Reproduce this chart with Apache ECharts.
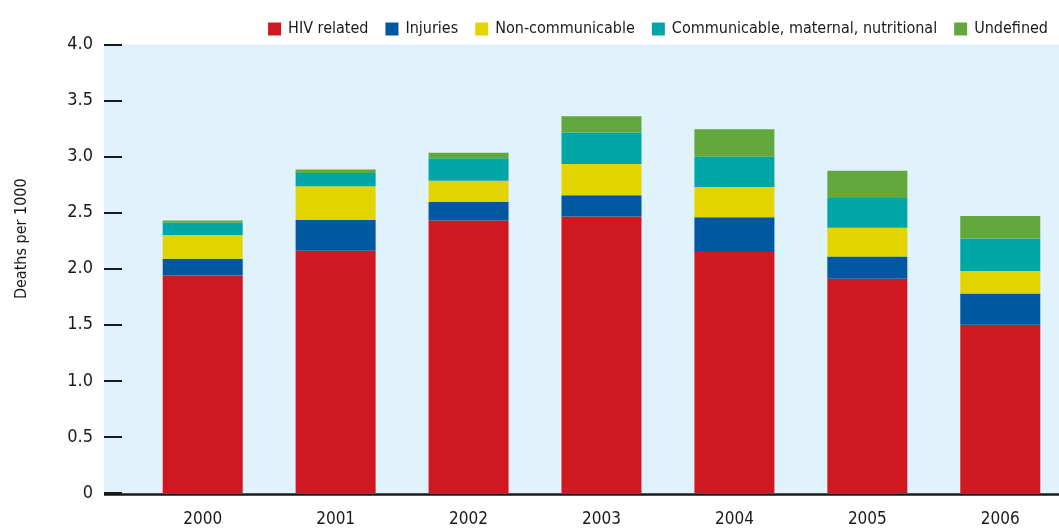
<!DOCTYPE html>
<html>
<head>
<meta charset="utf-8">
<script src="https://cdn.jsdelivr.net/npm/echarts@6/dist/echarts.min.js"></script>
<style>
html,body{margin:0;padding:0;background:#fff;}
#chart{width:1059px;height:528px;}
</style>
</head>
<body>
<div id="chart"></div>
<script>
var years = [2000, 2001, 2002, 2003, 2004, 2005, 2006];
var seriesNames = ['HIV related','Injuries','Non-communicable','Communicable, maternal, nutritional','Undefined'];
var hivRelated = [1.94, 2.16, 2.43, 2.465, 2.15, 1.91, 1.50];
var injuries = [0.15, 0.275, 0.165, 0.19, 0.31, 0.20, 0.28];
var nonCommunicable = [0.21, 0.30, 0.19, 0.28, 0.27, 0.255, 0.20];
var communicable = [0.11, 0.12, 0.20, 0.28, 0.27, 0.265, 0.29];
var undefinedCause = [0.02, 0.03, 0.05, 0.145, 0.245, 0.245, 0.20];
var yTicks = ['0','0.5','1.0','1.5','2.0','2.5','3.0','3.5','4.0'];
var colors = ['#CF1920','#0058A0','#E2D400','#00A5A8','#63A83C'];

var FONT = "'DejaVu Sans Condensed','Liberation Sans Narrow',sans-serif";
var chart = echarts.init(document.getElementById('chart'), null, {renderer:'canvas'});
var dataSets = [hivRelated, injuries, nonCommunicable, communicable, undefinedCause];

var option = {
  animation: false,
  color: colors,
  textStyle: {fontFamily: FONT},
  graphic: [
    {type:'line', z:100, shape:{x1:104, y1:494.5, x2:1059, y2:494.5}, style:{stroke:'#1a1a1a', lineWidth:2.5}}
  ],
  legend: {
    right: 6, top: 16, width: 1000,
    itemWidth: 13, itemHeight: 13, itemGap: 17,
    icon: 'rect',
    textStyle: {fontFamily: FONT, fontSize: 16, color:'#1a1a1a', padding:[0,0,0,2]},
    data: seriesNames
  },
  grid: {left: 104, right: 0, top: 44.5, bottom: 33, containLabel: false,
         show: true, backgroundColor: '#E0F2FC', borderWidth: 0},
  xAxis: {
    type: 'value', min: 1999.2575, max: 2006.4418,
    splitLine: {show: false},
    axisLine: {show: false},
    axisTick: {show: false},
    axisLabel: {fontFamily: FONT, fontSize: 17, color:'#1a1a1a', margin: 18,
      customValues: years, formatter: function(v){ return String(Math.round(v)); }}
  },
  yAxis: {
    type: 'value', min: 0, max: 4, interval: 0.5,
    name: 'Deaths per 1000',
    nameLocation: 'middle', nameGap: 74, nameRotate: 90,
    nameTextStyle: {fontFamily: FONT, fontSize: 16, color:'#1a1a1a', padding:[0,0,0,60]},
    splitLine: {show: false},
    axisLine: {show: false},
    axisTick: {show: true, inside: true, length: 18, lineStyle:{color:'#1a1a1a', width:2}},
    axisLabel: {fontFamily: FONT, fontSize: 18, color:'#1a1a1a', margin: 11,
      formatter: function(v){ return yTicks[Math.round(v*2)]; }}
  },
  series: seriesNames.map(function(n, i){
    return {
      name: n, type: 'bar', stack: 'total', barWidth: 80,
      encode: {x: 1, y: 0},
      data: years.map(function(y, j){ return [dataSets[i][j], y]; }),
      itemStyle: {color: colors[i]}
    };
  })
};
chart.setOption(option);
</script>
</body>
</html>
